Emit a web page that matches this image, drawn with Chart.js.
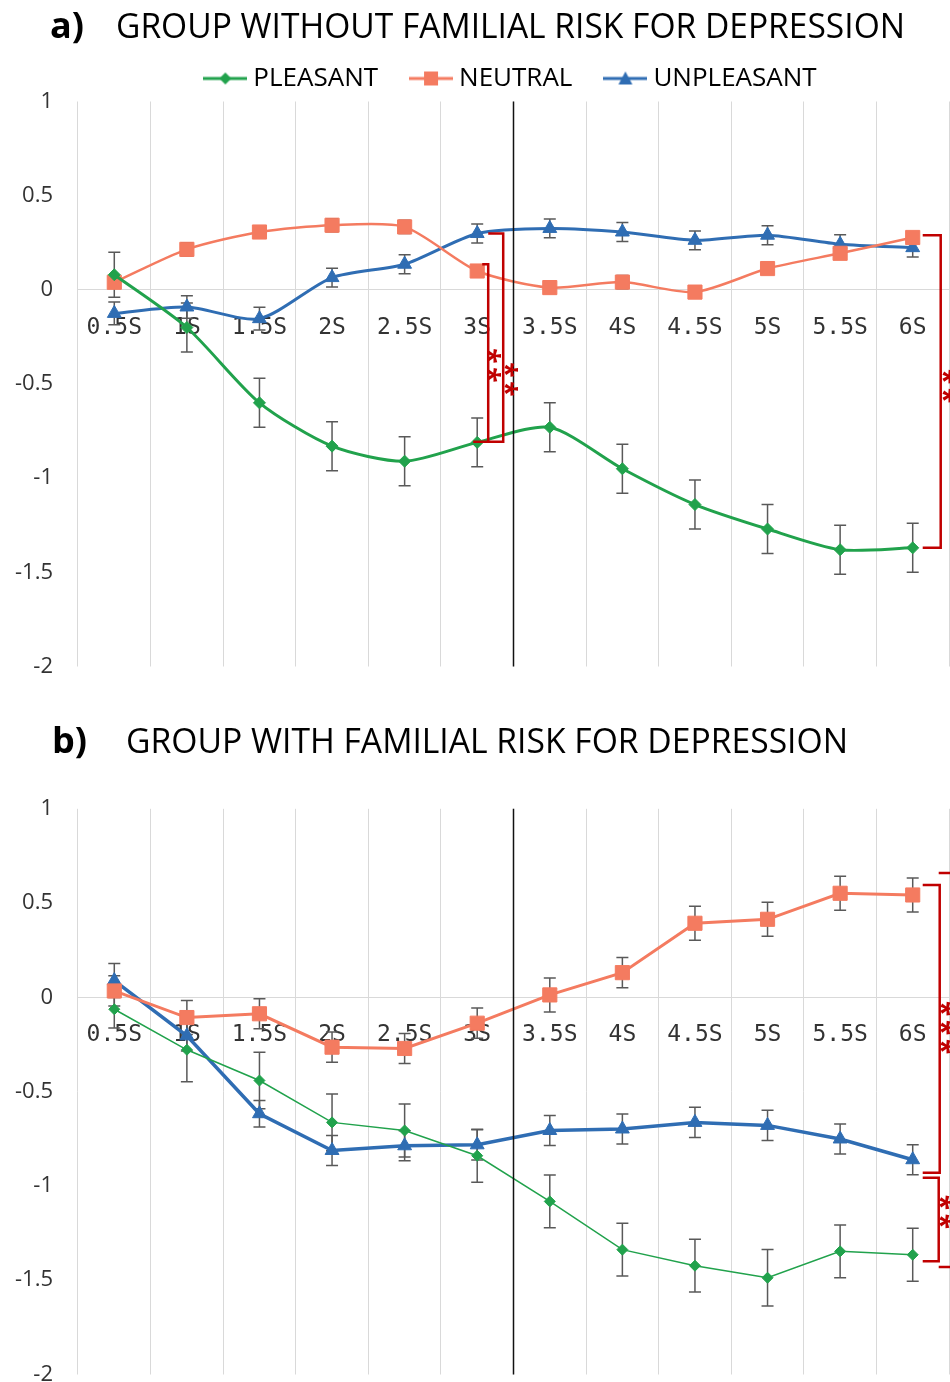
<!DOCTYPE html>
<html>
<head>
<meta charset="utf-8">
<style>
  html, body { margin: 0; padding: 0; background: #fff; overflow: hidden; }
  canvas { display: block; }
</style>
<script src="https://cdn.jsdelivr.net/npm/chart.js"></script>
</head>
<body>
<!-- a bit wider than the window: chart.js keeps ~11px spare on the right, the overflow is cut off -->
<canvas id="chartA" width="962" height="690"></canvas>
<canvas id="chartB" width="962" height="700"></canvas>
<script>
  // categories and ticks
  var labels = ["0.5S", "1S", "1.5S", "2S", "2.5S", "3S", "3.5S", "4S", "4.5S", "5S", "5.5S", "6S"];
  var yTicks = [1, 0.5, 0, -0.5, -1, -1.5, -2];
  var seriesNames = ["PLEASANT", "NEUTRAL", "UNPLEASANT"];

  // a) group without familial risk
  var pleasantA = [0.08, -0.20, -0.60, -0.83, -0.91, -0.81, -0.73, -0.95, -1.14, -1.27, -1.38, -1.37];
  var neutralA = [0.04, 0.215, 0.307, 0.343, 0.334, 0.10, 0.012, 0.041, -0.012, 0.113, 0.194, 0.278];
  var unpleasantA = [-0.125, -0.091, -0.153, 0.065, 0.136, 0.299, 0.326, 0.307, 0.263, 0.29, 0.242, 0.224];
  var pleasantErrA = [0.12, 0.13, 0.13, 0.13, 0.13, 0.13, 0.13, 0.13, 0.13, 0.13, 0.13, 0.13];
  var neutralErrA = [0.03, 0.035, 0.03, 0.035, 0.035, 0.03, 0.03, 0.035, 0.03, 0.03, 0.03, 0.03];
  var unpleasantErrA = [0.06, 0.06, 0.06, 0.05, 0.05, 0.05, 0.05, 0.05, 0.05, 0.05, 0.05, 0.05];

  // b) group with familial risk
  var pleasantB = [-0.063, -0.278, -0.441, -0.663, -0.706, -0.84, -1.082, -1.338, -1.423, -1.487, -1.347, -1.365];
  var neutralB = [0.034, -0.107, -0.087, -0.264, -0.271, -0.137, 0.013, 0.131, 0.393, 0.414, 0.552, 0.543];
  var unpleasantB = [0.089, -0.204, -0.617, -0.812, -0.787, -0.782, -0.706, -0.698, -0.663, -0.679, -0.751, -0.861];
  var pleasantErrB = [0.10, 0.17, 0.15, 0.15, 0.14, 0.14, 0.14, 0.14, 0.14, 0.15, 0.14, 0.14];
  var neutralErrB = [0.08, 0.09, 0.08, 0.08, 0.08, 0.08, 0.09, 0.08, 0.09, 0.09, 0.09, 0.09];
  var unpleasantErrB = [0.09, 0.08, 0.07, 0.08, 0.08, 0.08, 0.08, 0.08, 0.08, 0.08, 0.08, 0.08];

  var GREEN = '#21a24c', ORANGE = '#f47b60', BLUE = '#2f6db3', RED = '#c00000';
  var FONT = '"Open Sans", "Noto Sans", sans-serif';

  // little line+marker icons for the legend, like excel does
  function legendIcon(color, style) {
    var c = document.createElement('canvas');
    c.width = 44; c.height = 18;
    var g = c.getContext('2d');
    g.strokeStyle = color; g.fillStyle = color; g.lineWidth = 3;
    g.beginPath(); g.moveTo(0, 9); g.lineTo(44, 9); g.stroke();
    g.beginPath();
    if (style == 'rectRot') { g.moveTo(22, 3); g.lineTo(28, 9); g.lineTo(22, 15); g.lineTo(16, 9); }
    else if (style == 'rect') { g.rect(15, 2, 14, 14); }
    else { g.moveTo(22, 2); g.lineTo(29, 15); g.lineTo(15, 15); }
    g.closePath(); g.fill();
    return c;
  }
  var icons = [legendIcon(GREEN, 'rectRot'), legendIcon(ORANGE, 'rect'), legendIcon(BLUE, 'triangle')];

  function series(name, data, errs, color, style, radius, width, tension) {
    return {
      label: name, data: data, errors: errs,
      borderColor: color, backgroundColor: color,
      pointStyle: style, pointRadius: radius, pointHoverRadius: radius,
      pointBorderWidth: 1, borderWidth: width, tension: tension, fill: false
    };
  }

  function capLine(ctx, x, y) { ctx.moveTo(x - 6, y); ctx.lineTo(x + 6, y); }

  var annotate = {
    id: 'annotate',
    beforeDatasetsDraw: function(chart) {
      var ctx = chart.ctx, ys = chart.scales.y;
      ctx.save();
      ctx.strokeStyle = '#595959'; ctx.lineWidth = 1.5;
      chart.data.datasets.forEach(function(ds, di) {
        chart.getDatasetMeta(di).data.forEach(function(pt, i) {
          var t = ys.getPixelForValue(ds.data[i] + ds.errors[i]);
          var b = ys.getPixelForValue(ds.data[i] - ds.errors[i]);
          ctx.beginPath();
          ctx.moveTo(pt.x, t); ctx.lineTo(pt.x, b);
          capLine(ctx, pt.x, t); capLine(ctx, pt.x, b);
          ctx.stroke();
        });
      });
      ctx.restore();
    },
    afterDatasetsDraw: function(chart, args, o) {
      var ctx = chart.ctx, xs = chart.scales.x, ys = chart.scales.y, area = chart.chartArea;
      ctx.save();
      // black line between 3S and 3.5S
      var xm = (xs.getPixelForValue(5) + xs.getPixelForValue(6)) / 2;
      ctx.strokeStyle = '#111'; ctx.lineWidth = 1.5;
      ctx.beginPath(); ctx.moveTo(xm, area.top); ctx.lineTo(xm, area.bottom); ctx.stroke();

      ctx.strokeStyle = RED; ctx.lineWidth = 2.5; ctx.lineJoin = 'miter';
      o.brackets.forEach(function(b) {
        var cx = xs.getPixelForValue(b.i), xv = cx + b.dx;
        var yt = ys.getPixelForValue(b.top), yb = ys.getPixelForValue(b.bottom);
        ctx.beginPath();
        ctx.moveTo(cx + b.topStub, yt); ctx.lineTo(xv, yt);
        ctx.lineTo(xv, yb); ctx.lineTo(cx + b.botStub, yb);
        ctx.stroke();
      });

      // significance stars, turned on their side
      ctx.fillStyle = RED; ctx.textAlign = 'left'; ctx.textBaseline = 'alphabetic';
      ctx.font = 'bold 28px ' + FONT;
      var m = ctx.measureText('*');
      var base = (m.actualBoundingBoxAscent - m.actualBoundingBoxDescent) / 2;
      var shift = (m.actualBoundingBoxLeft - m.actualBoundingBoxRight) / 2;
      o.stars.forEach(function(s) {
        var sx = xs.getPixelForValue(s.i) + s.dx, sy = ys.getPixelForValue(s.at);
        for (var k = 0; k < s.n; k++) {
          ctx.save();
          ctx.translate(sx, sy + (k - (s.n - 1) / 2) * 19);
          ctx.rotate(Math.PI / 2);
          ctx.fillText('*', shift, base);
          ctx.restore();
        }
      });
      ctx.restore();
    },
    afterDraw: function(chart, args, o) {
      var ctx = chart.ctx, t = o.title;
      ctx.save();
      ctx.fillStyle = '#000'; ctx.textAlign = 'left'; ctx.textBaseline = 'alphabetic';
      ctx.font = 'bold 36px ' + FONT;
      ctx.fillText(t.tag, t.tagX, t.baseline);
      ctx.font = '35px ' + FONT;
      var w = ctx.measureText(t.text).width;
      ctx.translate(t.textX, t.baseline);
      ctx.scale((t.textRight - t.textX) / w, 1);
      ctx.fillText(t.text, 0, 0);
      ctx.restore();
    }
  };

  function makeChart(id, datasets, pad, showLegend, ann) {
    return new Chart(document.getElementById(id), {
      type: 'line',
      data: { labels: labels, datasets: datasets },
      plugins: [annotate],
      options: {
        responsive: false,
        animation: false,
        events: [],
        layout: { padding: pad },
        plugins: {
          tooltip: { enabled: false },
          annotate: ann,
          legend: {
            display: showLegend,
            position: 'top',
            fullSize: false,
            labels: {
              usePointStyle: true,
              pointStyleWidth: 30,
              padding: 38,
              color: '#262626',
              font: { family: FONT, size: 26 },
              generateLabels: function(chart) {
                return chart.data.datasets.map(function(ds, i) {
                  return { text: ds.label, pointStyle: icons[i], fillStyle: ds.borderColor,
                           strokeStyle: ds.borderColor, lineWidth: 0, hidden: false, datasetIndex: i };
                });
              }
            }
          }
        },
        scales: {
          x: {
            type: 'category',
            position: { y: 0 },
            offset: true,
            grid: { offset: true, color: '#d9d9d9', lineWidth: 1, drawTicks: true,
                    tickLength: 24, tickColor: 'rgba(0,0,0,0)' },
            border: { display: true, color: '#d9d9d9', width: 1 },
            afterFit: function(s) { s.paddingLeft = 0; s.paddingRight = 0; },
            ticks: { autoSkip: false, maxRotation: 0, padding: 0, color: '#333',
                     font: { family: '"DejaVu Sans Mono", monospace', size: 23 } }
          },
          y: {
            min: -2, max: 1,
            grid: { drawOnChartArea: false, drawTicks: true, tickLength: 25, tickColor: 'rgba(0,0,0,0)' },
            border: { display: false },
            afterFit: function(s) { s.width = 78; },
            afterBuildTicks: function(s) { s.ticks = yTicks.map(function(v) { return { value: v }; }); },
            ticks: { padding: 0, color: '#333', font: { family: FONT, size: 22 },
                     callback: function(v) { return String(v); } }
          }
        }
      }
    });
  }

  // nudge the layout padding until the plot area sits where the picture has it
  function fitArea(chart, target) {
    for (var k = 0; k < 3; k++) {
      var a = chart.chartArea, p = chart.options.layout.padding, xs = chart.scales.x;
      var step = xs.getPixelForValue(11) - xs.getPixelForValue(10);
      var edge = xs.getPixelForValue(11) + step / 2;
      chart.options.layout.padding = {
        top: p.top + (target.top - a.top),
        bottom: p.bottom + (a.bottom - target.bottom),
        left: p.left,
        right: p.right + (edge - target.right)
      };
      chart.update();
    }
  }

  var chartA = makeChart('chartA', [
    series(seriesNames[0], pleasantA, pleasantErrA, GREEN, 'rectRot', 6, 3, 0.25),
    series(seriesNames[1], neutralA, neutralErrA, ORANGE, 'rect', 10, 2.5, 0.25),
    series(seriesNames[2], unpleasantA, unpleasantErrA, BLUE, 'triangle', 8, 3, 0.25)
  ], { top: 21, bottom: 23.5, left: 0, right: 13 }, true, {
    title: { tag: 'a)', text: 'GROUP WITHOUT FAMILIAL RISK FOR DEPRESSION', tagX: 50, textX: 116, textRight: 905, baseline: 38 },
    brackets: [
      { i: 5, dx: 11, top: 0.136, bottom: -0.806, topStub: 5, botStub: -4 },
      { i: 5, dx: 26, top: 0.299, bottom: -0.806, topStub: 11, botStub: 11 },
      { i: 11, dx: 28, top: 0.29, bottom: -1.37, topStub: 10, botStub: 10 }
    ],
    stars: [
      { i: 5, dx: 17, at: -0.40, n: 2 },
      { i: 5, dx: 34, at: -0.475, n: 2 },
      { i: 11, dx: 36, at: -0.51, n: 2 }
    ]
  });
  fitArea(chartA, { top: 101.5, bottom: 666.5, right: 949 });

  var chartB = makeChart('chartB', [
    series(seriesNames[0], pleasantB, pleasantErrB, GREEN, 'rectRot', 5.5, 1.5, 0),
    series(seriesNames[1], neutralB, neutralErrB, ORANGE, 'rect', 10, 3, 0),
    series(seriesNames[2], unpleasantB, unpleasantErrB, BLUE, 'triangle', 8, 3.5, 0)
  ], { top: 119, bottom: 15.5, left: 0, right: 13 }, false, {
    title: { tag: 'b)', text: 'GROUP WITH FAMILIAL RISK FOR DEPRESSION', tagX: 52, textX: 126, textRight: 848, baseline: 63 },
    brackets: [
      { i: 11, dx: 27, top: 0.596, bottom: -0.93, topStub: 10, botStub: 10 },
      { i: 11, dx: 26, top: -0.956, bottom: -1.40, topStub: 10, botStub: 10 },
      { i: 11, dx: 39, top: 0.66, bottom: -1.43, topStub: 26, botStub: 26 }
    ],
    stars: [
      { i: 11, dx: 34, at: -0.16, n: 3 },
      { i: 11, dx: 33, at: -1.137, n: 2 }
    ]
  });
  fitArea(chartB, { top: 118.8, bottom: 684.5, right: 949 });
</script>
</body>
</html>
